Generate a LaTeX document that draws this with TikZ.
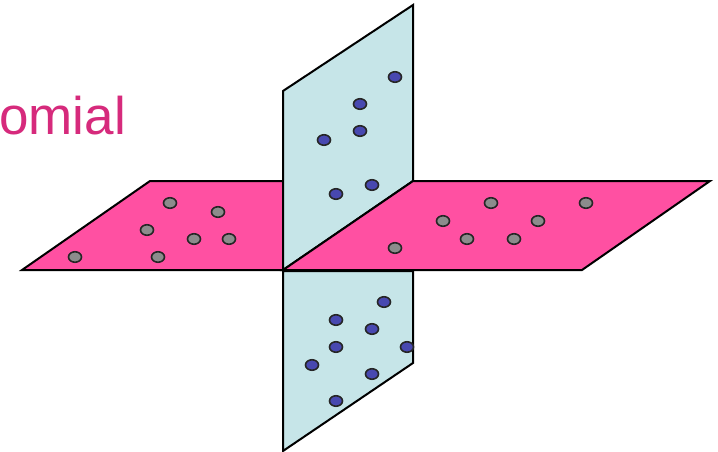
\documentclass[tikz,border=0pt]{standalone}
\usepackage{fontspec}
\setmainfont{Liberation Sans}
\usetikzlibrary{shapes.geometric}
\definecolor{pinkp}{RGB}{255,80,162}
\definecolor{bluep}{RGB}{198,229,232}
\definecolor{magtext}{RGB}{214,42,124}
\definecolor{grayd}{RGB}{140,140,140}
\definecolor{blued}{RGB}{72,72,176}
\tikzset{
  plane/.style={draw=black, line width=2pt, line join=miter},
  gdot/.style={ellipse, draw=black!85, fill=grayd, line width=1.6pt, minimum width=13pt, minimum height=10.5pt, inner sep=0pt},
  bdot/.style={ellipse, draw=black!85, fill=blued, line width=1.6pt, minimum width=13pt, minimum height=10.5pt, inner sep=0pt}
}
\begin{document}
\begin{tikzpicture}[x=1pt,y=-1pt]
\useasboundingbox (0,0) rectangle (718,452);
\fill[white] (0,0) rectangle (718,452);
\node[anchor=base west, inner sep=0pt, text=magtext, font=\fontsize{53}{53}\selectfont] (title) at (-1,135) {omial};
% pink left
\filldraw[plane, fill=pinkp] (22,270) -- (150,181) -- (283,181) -- (283,270) -- cycle;
% blue upper
\filldraw[plane, fill=bluep] (283,91) -- (413,5) -- (413,181) -- (283,270) -- cycle;
% pink right
\filldraw[plane, fill=pinkp] (283,270) -- (413,181) -- (710,181) -- (582,270) -- cycle;
% blue lower
\filldraw[plane, fill=bluep] (283,271) -- (413,271) -- (413,363) -- (283,451) -- cycle;
% upper blue dots
\node[bdot] (u1) at (395,77) {};
\node[bdot] (u2) at (360,104) {};
\node[bdot] (u3) at (360,131) {};
\node[bdot] (u4) at (324,140) {};
\node[bdot] (u5) at (372,185) {};
\node[bdot] (u6) at (336,194) {};
% lower blue dots
\node[bdot] (l1) at (384,302) {};
\node[bdot] (l2) at (336,320) {};
\node[bdot] (l3) at (372,329) {};
\node[bdot] (l4) at (336,347) {};
\node[bdot] (l5) at (407,347) {};
\node[bdot] (l6) at (312,365) {};
\node[bdot] (l7) at (372,374) {};
\node[bdot] (l8) at (336,401) {};
% left pink dots
\node[gdot] (p1) at (170,203) {};
\node[gdot] (p2) at (218,212) {};
\node[gdot] (p3) at (147,230) {};
\node[gdot] (p4) at (194,239) {};
\node[gdot] (p5) at (229,239) {};
\node[gdot] (p6) at (75,257) {};
\node[gdot] (p7) at (158,257) {};
% right pink dots
\node[gdot] (r1) at (491,203) {};
\node[gdot] (r2) at (586,203) {};
\node[gdot] (r3) at (443,221) {};
\node[gdot] (r4) at (538,221) {};
\node[gdot] (r5) at (467,239) {};
\node[gdot] (r6) at (514,239) {};
\node[gdot] (r7) at (395,248) {};
\end{tikzpicture}
\end{document}
